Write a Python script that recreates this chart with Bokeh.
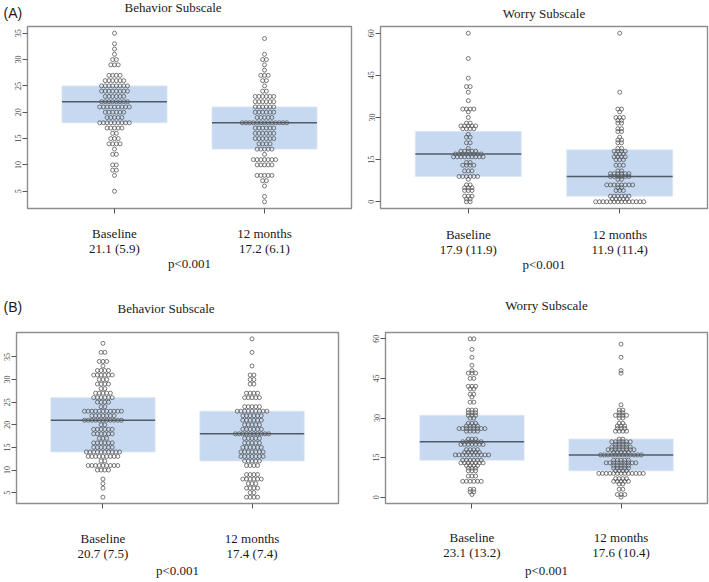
import numpy as np
from bokeh.plotting import figure
from bokeh.layouts import column, row
from bokeh.models import FixedTicker, Range1d, Title
from bokeh.embed import file_html
from bokeh.resources import INLINE

groups = ["Baseline", "12 months"]
p_text = "p<0.001"

# ---------- Panel (A) Behavior Subscale ----------
a_beh_base_vals = [35, 33, 32, 31, 30, 29, 27, 26, 25, 24, 23, 22, 21, 20, 19, 18, 17, 16, 15, 14, 13, 12, 10, 9, 8, 5]
a_beh_base_cnt = [1, 1, 1, 1, 2, 3, 4, 6, 8, 8, 6, 8, 9, 6, 5, 9, 5, 2, 3, 4, 1, 2, 2, 2, 1, 1]
a_beh_m12_vals = [34, 31, 30, 29, 28, 27, 26, 25, 24, 23, 22, 21, 20, 19, 18, 17, 16, 15, 14, 13, 12, 11, 10, 8, 7, 6, 4, 3]
a_beh_m12_cnt = [1, 1, 2, 1, 1, 3, 2, 1, 2, 6, 6, 6, 6, 5, 13, 6, 6, 6, 4, 5, 1, 7, 5, 5, 2, 1, 1, 1]
a_beh_q1 = [18, 13]
a_beh_med = [22, 18]
a_beh_q3 = [25, 21]
a_beh_stats = ["21.1 (5.9)", "17.2 (6.1)"]

# ---------- Panel (A) Worry Subscale ----------
a_wor_base_vals = [60, 51, 44, 41, 39, 36, 33, 32, 30, 28, 27, 26, 24, 23, 21, 19, 18, 17, 16, 14, 13, 11, 9, 8, 6, 5, 4, 2, 1, 0]
a_wor_base_cnt = [1, 1, 1, 2, 1, 1, 4, 1, 1, 2, 5, 4, 1, 2, 2, 1, 5, 8, 9, 2, 4, 3, 6, 1, 2, 3, 3, 3, 2, 2]
a_wor_m12_vals = [60, 39, 33, 32, 30, 29, 28, 26, 25, 23, 22, 21, 19, 18, 17, 16, 15, 13, 11, 10, 9, 8, 6, 5, 4, 2, 1, 0]
a_wor_m12_cnt = [1, 1, 2, 1, 3, 2, 2, 2, 2, 1, 2, 2, 2, 4, 3, 4, 3, 3, 2, 6, 6, 2, 8, 2, 3, 6, 5, 14]
a_wor_q1 = [9, 2]
a_wor_med = [17, 9]
a_wor_q3 = [25, 18.5]
a_wor_stats = ["17.9 (11.9)", "11.9 (11.4)"]

# ---------- Panel (B) Behavior Subscale ----------
b_beh_base_vals = [38, 36, 34, 33, 32, 31, 30, 29, 28, 27, 26, 25, 24, 23, 22, 21, 20, 19, 18, 17, 16, 15, 14, 13, 12, 11, 10, 8, 7, 6, 4]
b_beh_base_cnt = [1, 2, 3, 1, 4, 6, 3, 4, 2, 5, 6, 4, 2, 11, 7, 11, 2, 6, 6, 3, 6, 6, 10, 9, 2, 9, 4, 1, 1, 1, 1]
b_beh_m12_vals = [39, 36, 33, 31, 30, 29, 27, 26, 24, 23, 22, 21, 20, 19, 18, 17, 16, 15, 14, 13, 12, 11, 9, 8, 7, 6, 5, 4]
b_beh_m12_cnt = [1, 1, 1, 2, 2, 2, 4, 5, 5, 9, 6, 6, 5, 6, 10, 5, 5, 6, 7, 7, 5, 4, 4, 6, 3, 4, 2, 4]
b_beh_q1 = [14, 12]
b_beh_med = [21, 18]
b_beh_q3 = [26, 23]
b_beh_stats = ["20.7 (7.5)", "17.4 (7.4)"]

# ---------- Panel (B) Worry Subscale ----------
b_wor_base_vals = [60, 56, 53, 50, 48, 47, 45, 42, 41, 39, 38, 36, 33, 32, 31, 30, 28, 27, 26, 25, 22, 21, 20, 18, 17, 16, 14, 13, 12, 11, 10, 8, 6, 3, 2, 1]
b_wor_base_cnt = [2, 1, 1, 1, 1, 3, 2, 3, 2, 2, 1, 2, 3, 3, 3, 2, 3, 4, 8, 4, 3, 6, 7, 4, 5, 10, 6, 7, 4, 3, 3, 3, 6, 2, 2, 1]
b_wor_m12_vals = [58, 53, 48, 47, 35, 33, 32, 31, 30, 28, 27, 26, 25, 22, 21, 20, 19, 18, 17, 16, 14, 13, 12, 11, 10, 9, 7, 6, 5, 3, 1, 0]
b_wor_m12_cnt = [1, 1, 1, 1, 1, 2, 2, 4, 2, 2, 3, 3, 4, 2, 6, 4, 6, 8, 5, 12, 5, 9, 5, 5, 4, 13, 4, 5, 2, 2, 3, 1]
b_wor_q1 = [14, 10]
b_wor_med = [21, 16]
b_wor_q3 = [31, 22]
b_wor_stats = ["23.1 (13.2)", "17.6 (10.4)"]

beh_ticks = [5, 10, 15, 20, 25, 30, 35]
wor_ticks = [0, 15, 30, 45, 60]
SERIF = "Liberation Serif"
SANS = "Liberation Sans"
XR = (0.42, 2.58)
INK = "#1a1a1a"


def swarm(xc, vals, cnts, d):
    xs, ys = [], []
    for v, n in zip(vals, cnts):
        for i in range(n):
            xs.append(xc + (i - (n - 1) / 2.0) * d)
            ys.append(v)
    return xs, ys


def make_panel(width, height, borders, yrange, yticks, titles,
               base, m12, q1, med, q3, stats, lab_standoff, axl_standoff):
    ml, mr, mt, mbot = borders
    p = figure(width=width, height=height, x_range=Range1d(*XR), y_range=Range1d(*yrange),
               output_backend="svg", toolbar_location=None,
               min_border_left=ml, min_border_right=mr, min_border_top=mt, min_border_bottom=mbot)
    # titles: inner first, outer after
    for (txt, font, size, align, offset, valign, standoff) in titles:
        p.add_layout(Title(text=txt, align=align, offset=offset, vertical_align=valign,
                           standoff=standoff, text_font=font, text_font_size=size,
                           text_font_style="normal", text_color=INK), "above")
    p.grid.visible = False
    p.outline_line_color = "#8e8e8e"
    p.outline_line_width = 1.4
    p.border_fill_color = "white"

    xs = [1, 2]
    hw = 0.35
    p.quad(left=[x - hw for x in xs], right=[x + hw for x in xs], bottom=q1, top=q3,
           fill_color="#c6d9f1", line_color="#dbe6f4", line_width=0.8)
    p.segment(x0=[x - hw for x in xs], x1=[x + hw for x in xs], y0=med, y1=med,
              line_color="#4f5b68", line_width=1.5)

    frame_w = width - ml - mr
    d = 3.7 * (XR[1] - XR[0]) / frame_w
    for xc, (vals, cnts) in zip(xs, [base, m12]):
        sx, sy = swarm(xc, vals, cnts, d)
        p.scatter(sx, sy, marker="circle", size=4.0, fill_color=None,
                  line_color="#585858", line_width=0.8)

    # x axis
    xa = p.below[0]
    xa.ticker = FixedTicker(ticks=xs)
    xa.major_label_overrides = {1: groups[0] + "\n" + stats[0], 2: groups[1] + "\n" + stats[1]}
    xa.major_label_text_font = SERIF
    xa.major_label_text_font_size = "13px"
    xa.major_label_text_line_height = 1.05
    xa.major_label_text_color = INK
    xa.axis_label = p_text
    xa.axis_label_text_font = SERIF
    xa.axis_label_text_font_style = "normal"
    xa.axis_label_text_font_size = "13px"
    xa.axis_label_text_color = INK
    xa.axis_line_color = None
    xa.major_tick_in = 0
    xa.major_tick_out = 5
    xa.major_tick_line_color = "#555555"
    xa.minor_tick_line_color = None
    xa.major_label_standoff = lab_standoff
    xa.axis_label_standoff = axl_standoff

    # y axis
    ya = p.left[0]
    ya.ticker = FixedTicker(ticks=yticks)
    ya.major_label_orientation = "vertical"
    ya.major_label_text_font = SERIF
    ya.major_label_text_font_size = "8px"
    ya.major_label_text_color = "#444444"
    ya.axis_line_color = None
    ya.major_tick_in = 0
    ya.major_tick_out = 5
    ya.major_tick_line_color = "#555555"
    ya.minor_tick_line_color = None
    ya.major_label_standoff = 1
    return p


# row A: height 280 ; row B: height 301
pA1 = make_panel(362, 280, (27, 11, 26, 70), (1.72, 36.28), beh_ticks,
                 [("(A)", SANS, "14px", "left", -24, "top", 8),
                  ("Behavior Subscale", SERIF, "13px", "left", 97, "bottom", -28)],
                 (a_beh_base_vals, a_beh_base_cnt), (a_beh_m12_vals, a_beh_m12_cnt),
                 a_beh_q1, a_beh_med, a_beh_q3, a_beh_stats, 12, -3)
pA2 = make_panel(347, 280, (18, 2, 25, 72), (-2.4, 62.4), wor_ticks,
                 [("Worry Subscale", SERIF, "13px", "center", 0, "top", 8)],
                 (a_wor_base_vals, a_wor_base_cnt), (a_wor_m12_vals, a_wor_m12_cnt),
                 a_wor_q1, a_wor_med, a_wor_q3, a_wor_stats, 13, -3)
pB1 = make_panel(365, 301, (16, 27, 49, 70), (2.6, 40.4), beh_ticks,
                 [("(B)", SANS, "14px", "left", -13, "top", 31),
                  ("Behavior Subscale", SERIF, "13px", "left", 101, "bottom", -64)],
                 (b_beh_base_vals, b_beh_base_cnt), (b_beh_m12_vals, b_beh_m12_cnt),
                 b_beh_q1, b_beh_med, b_beh_q3, b_beh_stats, 22, -1)
pB2 = make_panel(344, 301, (20, 2, 52, 69), (-2.4, 62.4), wor_ticks,
                 [("Worry Subscale", SERIF, "13px", "center", 0, "top", 35)],
                 (b_wor_base_vals, b_wor_base_cnt), (b_wor_m12_vals, b_wor_m12_cnt),
                 b_wor_q1, b_wor_med, b_wor_q3, b_wor_stats, 21, 0)

layout = column(row(pA1, pA2), row(pB1, pB2))
open("out.html", "w").write(file_html(layout, INLINE))
